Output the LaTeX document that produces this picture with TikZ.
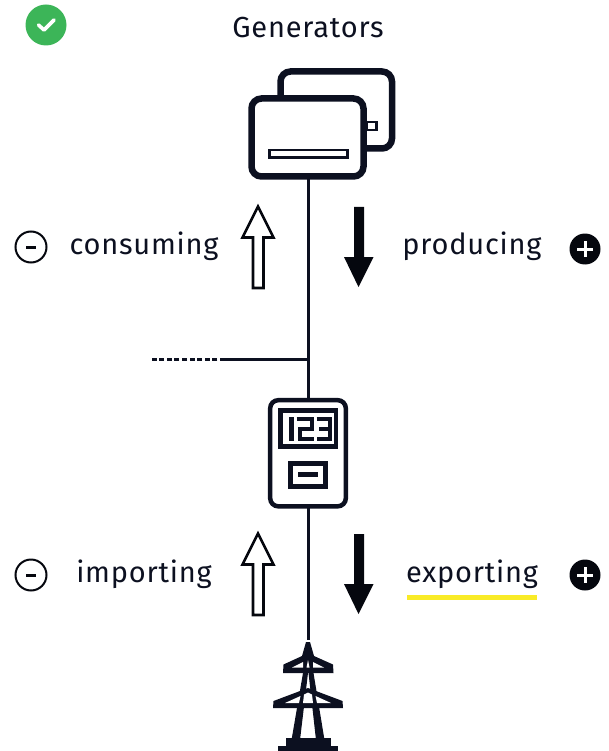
\documentclass[tikz,border=0pt]{standalone}
\usepackage{fontspec}
\setmainfont{Fira Sans}[LetterSpace=2.7]
\definecolor{ink}{HTML}{0C1020}
\definecolor{jet}{HTML}{05070E}
\definecolor{okgreen}{HTML}{3CB558}
\definecolor{hilite}{HTML}{F9EB27}
\tikzset{
  x=1pt,y=-1pt,
  word/.style={font=\fontsize{29}{32}\selectfont,text=ink,inner sep=0pt,anchor=base},
  wire/.style={draw=ink,line width=2.5pt},
  card/.style={draw=ink,line width=6.5pt,rounded corners=10pt,fill=white},
  thinbox/.style={draw=ink,line width=2.5pt,fill=white},
  uparrow/.style={draw=jet,line width=2.6pt,fill=white,line join=miter},
  downarrow/.style={fill=jet,draw=none},
  minussign/.style={draw=jet,line width=2pt,fill=white,circle,minimum size=31pt,inner sep=0pt},
  plussign/.style={fill=jet,circle,minimum size=31pt,inner sep=0pt},
  digit/.style={draw=ink,line width=4pt,line cap=butt,line join=miter},
}
\begin{document}
\begin{tikzpicture}
\useasboundingbox (0,0) rectangle (608,751);
% check badge
\node[fill=okgreen,circle,minimum size=41pt,inner sep=0pt] (badge) at (46,25) {};
\draw[white,line width=3.6pt,line cap=round,line join=round] (38.5,25) -- (44,30) -- (54,20);
\node[word] (gen) at (308,38) {Generators};
% wires
\coordinate (branch) at (308.3,359.5);
\coordinate (stubA) at (225,359.5);
\coordinate (stubB) at (152,359.5);
\coordinate (genfoot) at (308.3,178);
\coordinate (meterjoin) at (308.3,400);
\coordinate (meterfoot) at (308.3,506);
\coordinate (towertop) at (308.3,640);
\draw[wire] (genfoot) -- (meterjoin);
\draw[wire] (branch) -- (stubA);
\draw[wire,dash pattern=on 5pt off 2.6pt] (stubA) -- (stubB);
\draw[wire] (meterfoot) -- (towertop);
% generators
\draw[card] (280.5,71.5) rectangle (392,148.5);
\draw[thinbox] (367,122) rectangle (376.5,130);
\draw[card] (251.5,98.5) rectangle (363.5,176.5);
\draw[thinbox] (269.5,150) rectangle (347.5,157.5);
% meter
\draw[draw=ink,line width=4.5pt,rounded corners=8pt,fill=white] (270.2,400.2) rectangle (345.8,506.3);
\fill[ink] (278,408) rectangle (338,448.5);
\fill[white] (283,413) rectangle (333.5,443.5);
\fill[ink] (288.5,416.5) rectangle (293.5,441);
\draw[digit] (296.5,418.5) -- (312,418.5) -- (312,428.5) -- (300,428.5) -- (300,438.5) -- (314,438.5);
\draw[digit] (316.5,418.5) -- (330,418.5) -- (330,438.5) -- (316.5,438.5);
\draw[digit] (319,428.5) -- (330,428.5);
\draw[ink,line width=5pt,fill=white] (290.5,463.5) rectangle (325.5,486.5);
\fill[ink] (298,472) rectangle (318,477);
% tower
\fill[ink] (306,642) -- (310,642) -- (314,656) -- (333,664.5) -- (333.5,673) -- (283,673) -- (283.5,664.5) -- (302,656) -- cycle;
\fill[white] (292,667.5) -- (303,662) -- (303,667.5) -- cycle;
\fill[white] (324,667.5) -- (313,662) -- (313,667.5) -- cycle;
\fill[white] (306.5,667.5) -- (308,660) -- (309.5,667.5) -- cycle;
\fill[ink] (303,673) -- (308,673) -- (300,740) -- (291.5,740) -- cycle;
\fill[ink] (308.5,673) -- (313.5,673) -- (324.5,740) -- (316,740) -- cycle;
\fill[ink] (273,708) -- (273.5,701) -- (308,688) -- (342.5,701) -- (343,708) -- cycle;
\fill[white] (285,703) -- (300.5,696) -- (299,703) -- cycle;
\fill[white] (331,703) -- (315.5,696) -- (317,703) -- cycle;
\fill[white] (303,703) -- (304,694.5) -- (308,692.5) -- (312,694.5) -- (313,703) -- cycle;
\fill[ink] (286,738) rectangle (331,746);
\fill[ink] (278,746) rectangle (338,751);
% arrows
\draw[uparrow] (253,288) -- (263.5,288) -- (263.5,237.5) -- (273.5,237.5) -- (258,206.5) -- (242.5,237.5) -- (253,237.5) -- cycle;
\fill[downarrow] (354,207) -- (364,207) -- (364,257) -- (373.5,257) -- (358.5,287) -- (344,257) -- (354,257) -- cycle;
\draw[uparrow] (253,615) -- (263.5,615) -- (263.5,564.5) -- (273.5,564.5) -- (258,533.5) -- (242.5,564.5) -- (253,564.5) -- cycle;
\fill[downarrow] (354,534) -- (364,534) -- (364,584) -- (373.5,584) -- (358.5,614) -- (344,584) -- (354,584) -- cycle;
% labels
\node[word] (consuming) at (144,254) {consuming};
\node[word] (producing) at (472,254) {producing};
\node[word] (importing) at (144,582) {importing};
\node[word] (exporting) at (472,582) {exporting};
\fill[hilite] (407,595) rectangle (537,600);
% signs
\node[minussign] (m1) at (31,247) {};
\draw[jet,line width=2.6pt] (26,247.5) -- (36,247.5);
\node[minussign] (m2) at (31,575) {};
\draw[jet,line width=2.6pt] (26,575.5) -- (36,575.5);
\node[plussign] (p1) at (585,249) {};
\draw[white,line width=3pt] (577,249) -- (593,249) (585,241) -- (585,257);
\node[plussign] (p2) at (585,575) {};
\draw[white,line width=3pt] (577,575) -- (593,575) (585,567) -- (585,583);
\end{tikzpicture}
\end{document}
